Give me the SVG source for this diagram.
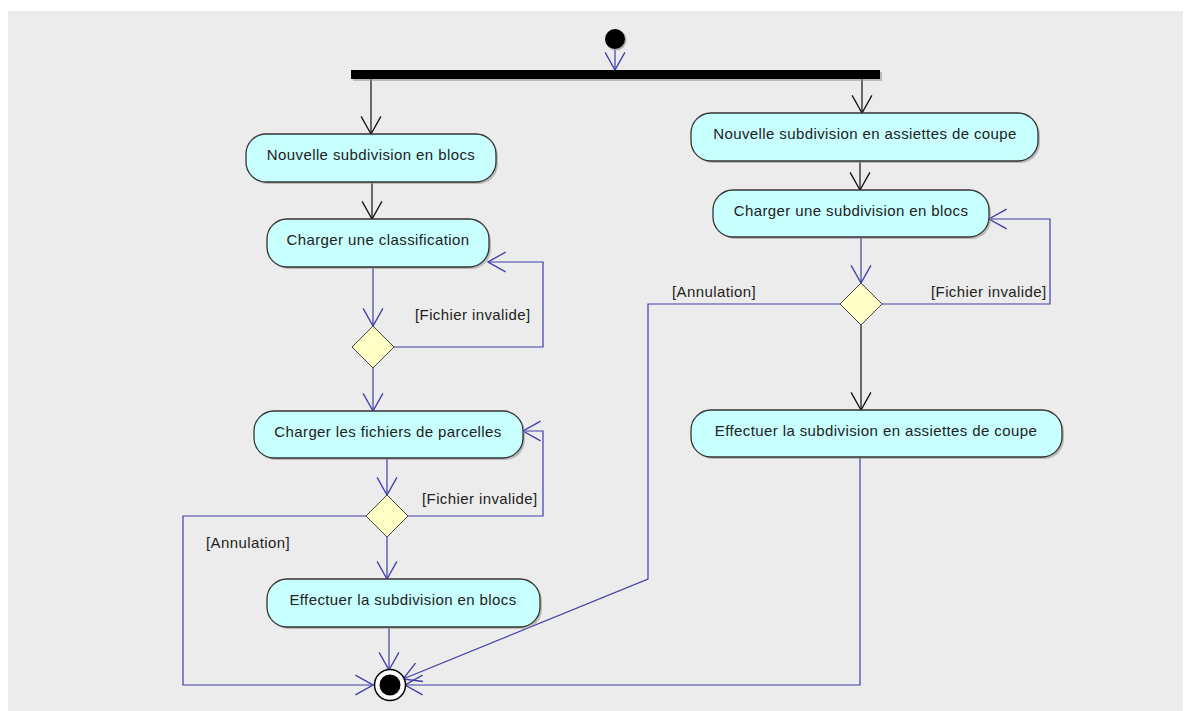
<svg xmlns="http://www.w3.org/2000/svg" width="1185" height="711" viewBox="0 0 1185 711">
  <style>
    .act { fill: #c8ffff; stroke: #333333; stroke-width: 1.3; }
    .shadow { fill: #9a9a9a; opacity: 0.6; }
    .dec { fill: #ffffc6; stroke: #444444; stroke-width: 1; }
    .lbl { font-family: "Liberation Sans", Arial, sans-serif; font-size: 15px; fill: #222222; letter-spacing: 0.4px; }
    .mid { text-anchor: middle; }
    .blk { fill: none; stroke: #111111; stroke-width: 1.2; }
    .blu { fill: none; stroke: #3e3ea8; stroke-width: 1.2; }
  </style>
  <defs>
    <marker id="arrBlack" markerUnits="userSpaceOnUse" markerWidth="20" markerHeight="22" refX="0" refY="0" viewBox="-17 -10 18 20" orient="auto">
      <path d="M-16,-9 L0,0 L-16,9" fill="none" stroke="#111111" stroke-width="1.2"/>
    </marker>
    <marker id="arrBlue" markerUnits="userSpaceOnUse" markerWidth="20" markerHeight="22" refX="0" refY="0" viewBox="-17 -10 18 20" orient="auto">
      <path d="M-16,-9 L0,0 L-16,9" fill="none" stroke="#3e3ea8" stroke-width="1.2"/>
    </marker>
  </defs>

  <!-- canvas -->
  <rect x="0" y="0" width="1185" height="711" fill="#ffffff"/>
  <rect x="8" y="11" width="1175" height="700" fill="#ececec"/>

  <!-- connectors -->
  <g id="connectors">
    <line class="blu" x1="615" y1="50" x2="615" y2="70" marker-end="url(#arrBlue)"/>
    <line class="blk" x1="371" y1="79" x2="371" y2="134" marker-end="url(#arrBlack)"/>
    <line class="blk" x1="862" y1="79" x2="862" y2="113" marker-end="url(#arrBlack)"/>
    <!-- left branch -->
    <line class="blk" x1="372" y1="182" x2="372" y2="219" marker-end="url(#arrBlack)"/>
    <line class="blu" x1="373" y1="267" x2="373" y2="326" marker-end="url(#arrBlue)"/>
    <polyline class="blu" points="394,347 543,347 543,262 488,262" marker-end="url(#arrBlue)"/>
    <line class="blu" x1="373" y1="367" x2="373" y2="411" marker-end="url(#arrBlue)"/>
    <line class="blu" x1="387" y1="458" x2="387" y2="495" marker-end="url(#arrBlue)"/>
    <polyline class="blu" points="407,516 543,516 543,431 523,431" marker-end="url(#arrBlue)"/>
    <polyline class="blu" points="366,516 183,516 183,685 373,685" marker-end="url(#arrBlue)"/>
    <line class="blu" x1="387" y1="537" x2="387" y2="579" marker-end="url(#arrBlue)"/>
    <line class="blu" x1="389" y1="627" x2="389" y2="670" marker-end="url(#arrBlue)"/>
    <!-- right branch -->
    <line class="blk" x1="860" y1="161" x2="860" y2="190" marker-end="url(#arrBlack)"/>
    <line class="blu" x1="861" y1="237" x2="861" y2="283" marker-end="url(#arrBlue)"/>
    <polyline class="blu" points="882,304 1050,304 1050,219 989,219" marker-end="url(#arrBlue)"/>
    <polyline class="blu" points="841,304 648,304 648,579 403,679" marker-end="url(#arrBlue)"/>
    <line class="blk" x1="861" y1="325" x2="861" y2="410" marker-end="url(#arrBlack)"/>
    <polyline class="blu" points="860,457 860,685 405,685" marker-end="url(#arrBlue)"/>
  </g>

  <!-- guard labels -->
  <g id="guards">
    <text class="lbl" x="415" y="320">[Fichier invalide]</text>
    <text class="lbl" x="422" y="504">[Fichier invalide]</text>
    <text class="lbl" x="206" y="548">[Annulation]</text>
    <text class="lbl" x="672" y="297">[Annulation]</text>
    <text class="lbl" x="931" y="297">[Fichier invalide]</text>
  </g>

  <!-- initial node -->
  <g id="start">
    <circle cx="616" cy="40" r="10.5" fill="#888888" opacity="0.6"/>
    <circle cx="615" cy="39" r="10" fill="#000000"/>
  </g>

  <!-- fork bar -->
  <g id="fork">
    <rect x="353" y="72" width="529" height="9" fill="#888888" opacity="0.5"/>
    <rect x="351" y="70" width="529" height="9" fill="#000000"/>
  </g>

  <g id="n-nouvelle-blocs">
    <rect class="shadow" x="248" y="136" width="250" height="48" rx="20"/>
    <rect class="act" x="246" y="134" width="250" height="48" rx="20"/>
    <text class="lbl mid" x="371" y="160">Nouvelle subdivision en blocs</text>
  </g>

  <g id="n-charger-classification">
    <rect class="shadow" x="269" y="221" width="222" height="48" rx="20"/>
    <rect class="act" x="267" y="219" width="222" height="48" rx="20"/>
    <text class="lbl mid" x="378" y="245">Charger une classification</text>
  </g>

  <g id="d-classification">
    <polygon class="dec" points="373,326 394,347 373,368 352,347"/>
  </g>

  <g id="n-charger-parcelles">
    <rect class="shadow" x="256" y="413" width="269" height="47" rx="20"/>
    <rect class="act" x="254" y="411" width="269" height="47" rx="20"/>
    <text class="lbl mid" x="388" y="437">Charger les fichiers de parcelles</text>
  </g>

  <g id="d-parcelles">
    <polygon class="dec" points="387,495 408,516 387,537 366,516"/>
  </g>

  <g id="n-effectuer-blocs">
    <rect class="shadow" x="269" y="581" width="273" height="48" rx="20"/>
    <rect class="act" x="267" y="579" width="273" height="48" rx="20"/>
    <text class="lbl mid" x="403" y="605">Effectuer la subdivision en blocs</text>
  </g>

  <g id="n-nouvelle-assiettes">
    <rect class="shadow" x="693" y="115" width="347" height="48" rx="20"/>
    <rect class="act" x="691" y="113" width="347" height="48" rx="20"/>
    <text class="lbl mid" x="865" y="139">Nouvelle subdivision en assiettes de coupe</text>
  </g>

  <g id="n-charger-subdivision">
    <rect class="shadow" x="715" y="192" width="276" height="47" rx="20"/>
    <rect class="act" x="713" y="190" width="276" height="47" rx="20"/>
    <text class="lbl mid" x="851" y="216">Charger une subdivision en blocs</text>
  </g>

  <g id="d-subdivision">
    <polygon class="dec" points="861,283 882,304 861,325 840,304"/>
  </g>

  <g id="n-effectuer-assiettes">
    <rect class="shadow" x="693" y="412" width="371" height="47" rx="20"/>
    <rect class="act" x="691" y="410" width="371" height="47" rx="20"/>
    <text class="lbl mid" x="876" y="436">Effectuer la subdivision en assiettes de coupe</text>
  </g>

  <!-- final node -->
  <g id="end">
    <circle cx="390" cy="685" r="15.5" fill="#ffffff" stroke="#000000" stroke-width="1.5"/>
    <circle cx="390" cy="685" r="10.5" fill="#000000"/>
  </g>
</svg>
